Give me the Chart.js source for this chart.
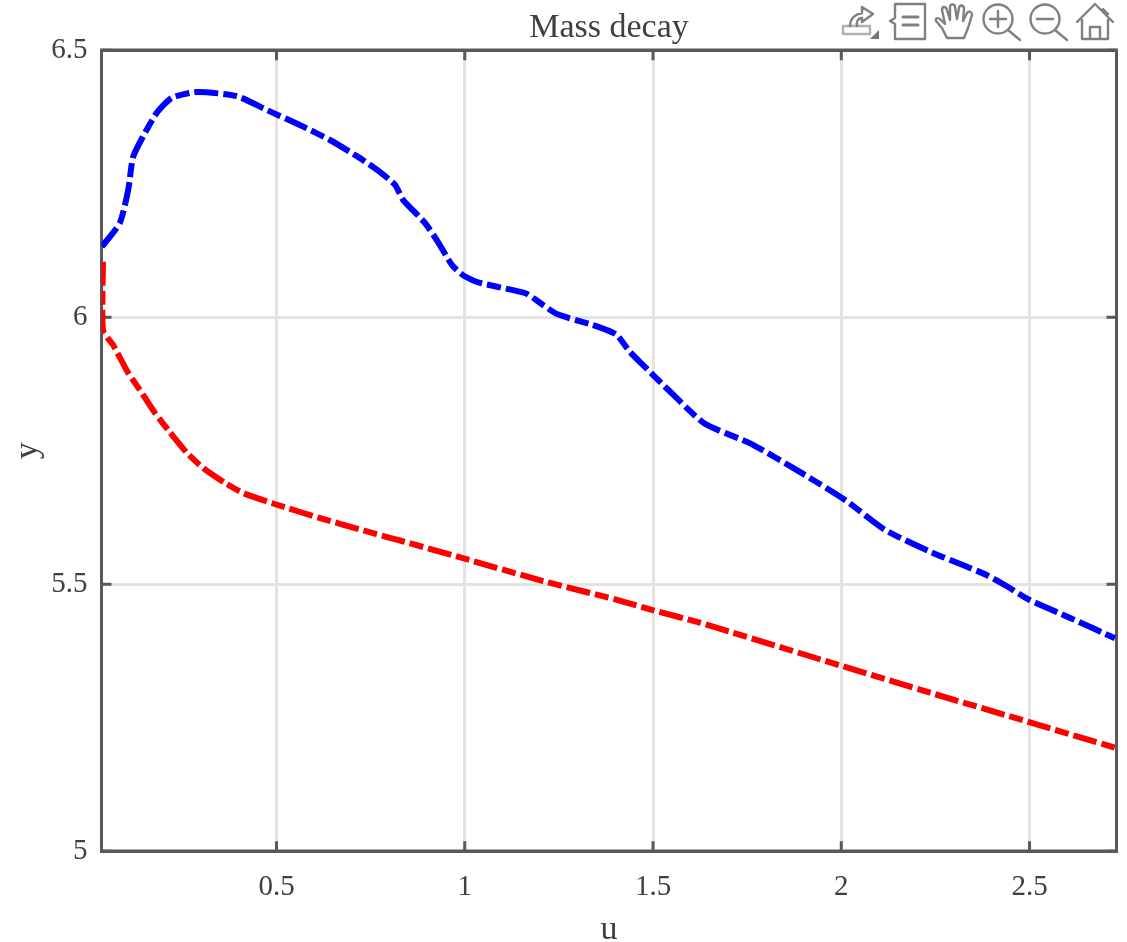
<!DOCTYPE html>
<html><head><meta charset="utf-8">
<script src="https://cdn.jsdelivr.net/npm/chart.js@4"></script>
<style>
html,body{margin:0;padding:0;background:#fff;overflow:hidden}
#wrap{position:relative;width:1127px;height:942px}
canvas{position:absolute;left:0;top:0}
#tb{position:absolute;left:0;top:0;pointer-events:none}
</style></head><body>
<div id="wrap"><canvas id="c" width="1127" height="942"></canvas>
<svg id="tb" width="1127" height="45" viewBox="0 0 1127 45" fill="none" stroke="#808080" stroke-width="2.4" stroke-linejoin="round" stroke-linecap="round">
  <rect x="843" y="26" width="27" height="8" stroke="#b0b0b0"/>
  <path d="M850 26 C850 18 856 14 862 13 L862 7 L873 14 L862 22 L862 18 C858 18 856 22 857 26"/>
  <path d="M870 39 L879 39 L879 30 Z" fill="#777" stroke="none"/>
  <path d="M895 4 H925 V39 H895 V24 L890 21 L895 18 Z"/>
  <path d="M903 17 H918 M903 25 H918" stroke-width="3"/>
  <path d="M947 38 L942 28 L936 21 C935 18 938 17 941 20 L945 24 L942 10 C942 6 946 6 947 10 L950 20 L950 7 C950 3 955 4 955 7 L957 19 L959 8 C960 4 964 5 964 9 L963 21 L967 13 C969 10 972 12 972 15 L968 28 L964 38 Z"/>
  <circle cx="998" cy="19" r="14.5"/><path d="M1008 30 L1020 40 M990 19 H1006 M998 11 V27"/>
  <circle cx="1045" cy="19" r="14.5"/><path d="M1055 30 L1067 40 M1037 19 H1053"/>
  <path d="M1077 22 L1095 4 L1113 22 M1082 20 V39 H1108 V20 M1090 39 V27 H1100 V39 M1103 9 L1108 14"/>
</svg></div>
<script>
const blueU=[0.036,0.084,0.106,0.119,0.145,0.182,0.222,0.289,0.395,0.475,0.562,0.642,0.722,0.775,0.815,0.836,0.894,0.929,0.966,0.995,1.033,1.139,1.165,1.208,1.245,1.333,1.378,1.404,1.439,1.473,1.532,1.637,1.758,1.891,2.01,2.116,2.236,2.323,2.387,2.443,2.499,2.608,2.727];
const blueY=[6.132,6.177,6.238,6.3,6.338,6.383,6.411,6.422,6.414,6.388,6.36,6.332,6.298,6.272,6.248,6.22,6.177,6.141,6.098,6.079,6.066,6.049,6.044,6.023,6.006,5.987,5.976,5.967,5.935,5.911,5.87,5.801,5.764,5.71,5.658,5.602,5.561,5.536,5.517,5.495,5.471,5.437,5.399];
const redU=[0.039,0.039,0.066,0.106,0.137,0.177,0.212,0.262,0.305,0.363,0.411,0.501,0.616,0.73,0.801,0.828,0.995,1.208,1.404,1.497,1.625,1.997,2.236,2.499,2.727];
const redY=[6.104,5.976,5.948,5.896,5.864,5.821,5.789,5.746,5.718,5.69,5.671,5.649,5.624,5.601,5.587,5.582,5.549,5.506,5.471,5.452,5.428,5.348,5.297,5.242,5.194];
const xTicks=[0.5,1,1.5,2,2.5];
const yTicks=[5,5.5,6,6.5];
const chartTitle='Mass decay', xTitle='u', yTitle='y';
const uMin=0.0352,uMax=2.731,yMin=5,yMax=6.5;
const FONT='"Liberation Serif","Times New Roman",serif';
const INK='#404040', BOX='#595959', GRID='#e3e3e3';
const pts=(a,b)=>a.map((x,i)=>({x,y:b[i]}));
const frame={id:'frame',beforeDatasetsDraw(ch){
  const {ctx,chartArea:a,scales:{x,y}}=ch,T=10;
  ctx.save();ctx.strokeStyle=BOX;ctx.lineWidth=3;ctx.beginPath();
  xTicks.forEach(v=>{const p=x.getPixelForValue(v);ctx.moveTo(p,a.bottom);ctx.lineTo(p,a.bottom-T);ctx.moveTo(p,a.top);ctx.lineTo(p,a.top+T);});
  yTicks.forEach(v=>{const p=y.getPixelForValue(v);ctx.moveTo(a.left,p);ctx.lineTo(a.left+T,p);ctx.moveTo(a.right,p);ctx.lineTo(a.right-T,p);});
  ctx.stroke();
  ctx.lineWidth=3;ctx.beginPath();
  ctx.moveTo(a.left,a.bottom);ctx.lineTo(a.left,a.top);ctx.moveTo(a.right,a.top);ctx.lineTo(a.right,a.bottom);ctx.stroke();
  ctx.lineWidth=3.5;ctx.beginPath();
  ctx.moveTo(a.left-1.5,a.top);ctx.lineTo(a.right+1.5,a.top);ctx.moveTo(a.left-1.5,a.bottom);ctx.lineTo(a.right+1.5,a.bottom);ctx.stroke();
  ctx.restore();
}};
new Chart(document.getElementById('c'),{
  type:'line',
  data:{datasets:[
    {label:'blue',data:pts(blueU,blueY),borderColor:'#0000ff',borderWidth:6,borderDash:[24,5,14,5],pointRadius:0,tension:0.2,fill:false,clip:{left:0,right:1,top:0,bottom:0}},
    {label:'red',data:pts(redU,redY),borderColor:'#ff0000',borderWidth:6,borderDash:[24,5,14,5],pointRadius:0,tension:0.2,fill:false,clip:{left:0,right:0,top:0,bottom:0}}
  ]},
  plugins:[frame],
  options:{
    responsive:false,animation:false,
    layout:{padding:{left:0,right:10.5,top:0,bottom:0}},
    plugins:{legend:{display:false},tooltip:{enabled:false},
      title:{display:true,text:chartTitle,fullSize:false,color:INK,font:{family:FONT,size:34,weight:'normal',lineHeight:1.2},padding:{top:8,bottom:1.5}}},
    scales:{
      x:{type:'linear',min:uMin,max:uMax,
        afterBuildTicks:s=>{s.ticks=xTicks.map(v=>({value:v}));},
        afterFit:s=>{s.height=90.7;},
        border:{display:false},
        grid:{color:GRID,lineWidth:3,drawTicks:false},
        ticks:{autoSkip:false,maxRotation:0,color:INK,padding:19,font:{family:FONT,size:29},callback:v=>String(v)},
        title:{display:true,text:xTitle,color:INK,font:{family:FONT,size:34,lineHeight:0.7},padding:{top:0,bottom:0}}},
      y:{type:'linear',min:yMin,max:yMax,
        afterBuildTicks:s=>{s.ticks=yTicks.map(v=>({value:v}));},
        afterFit:s=>{s.width=101.5;},
        border:{display:false},
        grid:{color:GRID,lineWidth:3,drawTicks:false},
        ticks:{autoSkip:false,color:INK,padding:14,font:{family:FONT,size:29},callback:v=>String(v)},
        title:{display:true,text:yTitle,color:INK,font:{family:FONT,size:34},padding:{top:8,bottom:0}}}
    }
  }
});
</script></body></html>
